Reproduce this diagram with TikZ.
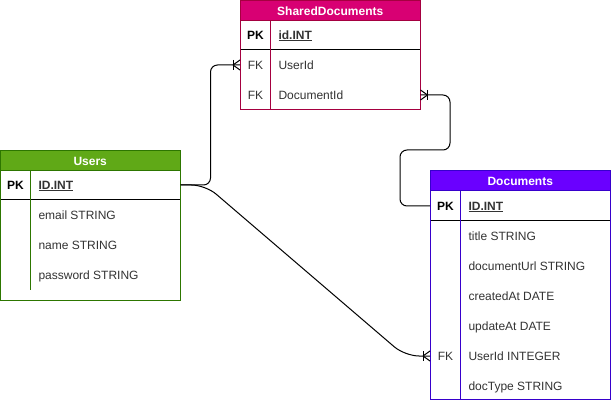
\documentclass[tikz,border=0pt]{standalone}
\usepackage{fontspec}
\setmainfont{Liberation Sans}
\usetikzlibrary{calc}
\definecolor{ugreen}{HTML}{60A917}
\definecolor{ugreenS}{HTML}{2D7600}
\definecolor{dpurple}{HTML}{6A00FF}
\definecolor{dpurpleS}{HTML}{3700CC}
\definecolor{smag}{HTML}{D80073}
\definecolor{smagS}{HTML}{A50040}
\definecolor{txtgray}{HTML}{333333}
\tikzset{
  rowbox/.style={inner sep=0pt, minimum height=30pt},
  hdrtxt/.style={inner sep=0pt, yshift=-1.5pt, text=white, font=\fontsize{12pt}{14pt}\selectfont\bfseries, anchor=mid},
  keytxt/.style={inner sep=0pt, yshift=-1.5pt, text=black, font=\fontsize{12pt}{14pt}\selectfont\bfseries, anchor=mid},
  fktxt/.style={inner sep=0pt, yshift=-1.5pt, text=txtgray, font=\fontsize{12pt}{14pt}\selectfont, anchor=mid},
  pktxt/.style={inner sep=0pt, yshift=-1.5pt, text=txtgray, font=\fontsize{12pt}{14pt}\selectfont\bfseries, anchor=mid west},
  fldtxt/.style={inner sep=0pt, yshift=-1.5pt, text=txtgray, font=\fontsize{12pt}{14pt}\selectfont, anchor=mid west},
  conn/.style={draw=black, line width=1pt},
}
\begin{document}
\begin{tikzpicture}[x=1pt,y=-1pt,line width=1pt]
\useasboundingbox (0,0) rectangle (611,401);
\fill[white] (0,0) rectangle (611,401);

% ---------- SharedDocuments ----------
\draw[smagS, fill=white] (240.5,0.5) rectangle (420,110);
\draw[smagS, fill=smag] (240.5,0.5) rectangle (420,20.5);
\draw[black] (240.5,50) -- (420,50);
\draw[smagS] (270.5,20.5) -- (270.5,110);
\node[hdrtxt] (s-h) at (330.25,11) {SharedDocuments};
\node[rowbox, minimum width=179.5pt] (s-pk) at (330.25,35) {};
\node[rowbox, minimum width=179.5pt] (s-uid) at (330.25,65) {};
\node[rowbox, minimum width=179.5pt] (s-did) at (330.25,95) {};
\node[keytxt] (s-pk-k) at (255.5,35) {PK};
\node[pktxt] (s-pk-f) at (278,35) {\underline{id.INT}};
\node[fktxt] (s-uid-k) at (255.5,65) {FK};
\node[fldtxt] (s-uid-f) at (278,65) {UserId};
\node[fktxt] (s-did-k) at (255.5,95) {FK};
\node[fldtxt] (s-did-f) at (278,95) {DocumentId};

% ---------- Users ----------
\draw[ugreenS, fill=white] (0.5,150.5) rectangle (180,300);
\draw[ugreenS, fill=ugreen] (0.5,150.5) rectangle (180,170.5);
\draw[black] (0.5,200) -- (180,200);
\draw[ugreenS] (30.5,170.5) -- (30.5,290);
\node[hdrtxt] (u-h) at (90.25,161) {Users};
\node[rowbox, minimum width=179.5pt] (u-pk) at (90.25,185) {};
\node[keytxt] (u-pk-k) at (15.5,185) {PK};
\node[pktxt] (u-pk-f) at (38,185) {\underline{ID.INT}};
\node[fldtxt] (u-email) at (38,215) {email STRING};
\node[fldtxt] (u-name) at (38,245) {name STRING};
\node[fldtxt] (u-pass) at (38,275) {password STRING};

% ---------- Documents ----------
\draw[dpurpleS, fill=white] (430.5,170.5) rectangle (610,399.5);
\draw[dpurpleS, fill=dpurple] (430.5,170.5) rectangle (610,190.5);
\draw[black] (430.5,221) -- (610,221);
\draw[dpurpleS] (460.5,190.5) -- (460.5,399.5);
\node[hdrtxt] (d-h) at (520.25,181) {Documents};
\node[rowbox, minimum width=179.5pt] (d-pk) at (520.25,206) {};
\node[rowbox, minimum width=179.5pt] (d-uid) at (520.25,356) {};
\node[keytxt] (d-pk-k) at (445.5,206) {PK};
\node[pktxt] (d-pk-f) at (468,206) {\underline{ID.INT}};
\node[fldtxt] (d-title) at (468,236) {title STRING};
\node[fldtxt] (d-url) at (468,266) {documentUrl STRING};
\node[fldtxt] (d-created) at (468,296) {createdAt DATE};
\node[fldtxt] (d-updated) at (468,326) {updateAt DATE};
\node[fktxt] (d-uid-k) at (445.5,356) {FK};
\node[fldtxt] (d-uid-f) at (468,356) {UserId INTEGER};
\node[fldtxt] (d-type) at (468,386) {docType STRING};

% ---------- Connectors ----------
% Users.ID -> SharedDocuments.UserId
\draw[conn, rounded corners=7pt] (u-pk.east) -- ++(30,0) |- (s-uid.west);
\draw[conn] ($(s-uid.west)+(-7,-5)$) -- ++(0,10);
\draw[conn] ($(s-uid.west)+(-7,0)$) -- ($(s-uid.west)+(0,-5)$);
\draw[conn] ($(s-uid.west)+(-7,0)$) -- ($(s-uid.west)+(0,5)$);

% Documents.ID -> SharedDocuments.DocumentId
\draw[conn, rounded corners=7pt] (d-pk.west) -- ++(-30,0) -- ++(0,-56) -- ++(50,0) |- (s-did.east);
\draw[conn] ($(s-did.east)+(7,-5)$) -- ++(0,10);
\draw[conn] ($(s-did.east)+(7,0)$) -- ($(s-did.east)+(0,-5)$);
\draw[conn] ($(s-did.east)+(7,0)$) -- ($(s-did.east)+(0,5)$);

% Users.ID -> Documents.UserId
\draw[conn, rounded corners=14pt] (u-pk.east) -- ++(25,0) -- ($(d-uid.west)+(-25,0)$) -- (d-uid.west);
\draw[conn] ($(d-uid.west)+(-7,-5)$) -- ++(0,10);
\draw[conn] ($(d-uid.west)+(-7,0)$) -- ($(d-uid.west)+(0,-5)$);
\draw[conn] ($(d-uid.west)+(-7,0)$) -- ($(d-uid.west)+(0,5)$);
\end{tikzpicture}
\end{document}
